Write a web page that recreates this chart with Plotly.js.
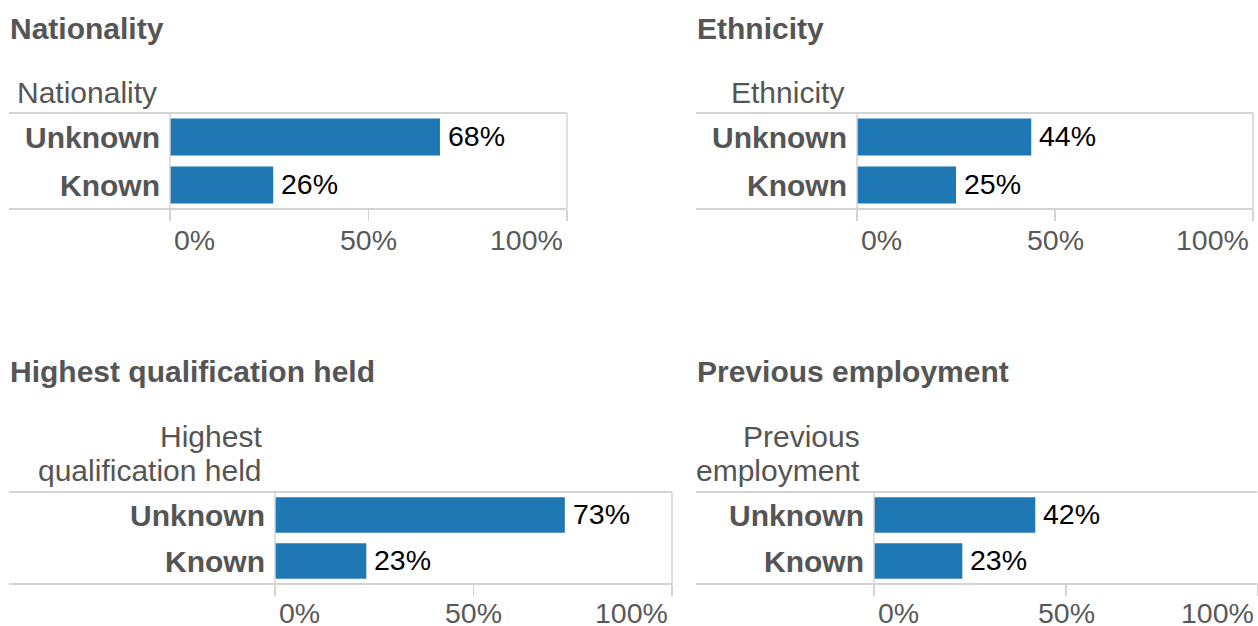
<!DOCTYPE html>
<html>
<head>
<meta charset="utf-8">
<script src="https://cdn.plot.ly/plotly-3.0.1.min.js"></script>
<style>
  html, body { margin: 0; padding: 0; background: #fff; }
  #chart { width: 1258px; height: 626px; }
</style>
</head>
<body>
<div id="chart"></div>
<script>
// ---- data ----
const panelTitles = ["Nationality", "Ethnicity", "Highest qualification held", "Previous employment"];
const subHeaders = [["Nationality"], ["Ethnicity"], ["Highest", "qualification held"], ["Previous", "employment"]];
const categories = ["Unknown", "Known"];
const nationalityValues = [68, 26];
const ethnicityValues = [44, 25];
const qualificationValues = [73, 23];
const employmentValues = [42, 23];
const tickValues = [0, 50, 100];
const tickLabels = ["0%", "50%", "100%"];

const seriesList = [nationalityValues, ethnicityValues, qualificationValues, employmentValues];

// ---- layout geometry (pixels) ----
const W = 1258, H = 626;
const fx = px => px / W;
const fy = py => 1 - py / H;

const panels = [
  { left: 9,   plotL: 170, plotR: 567,  top: 113, bottom: 209, titleY: 28,  subY: [93],       subR: 159, tickY: 240, rightBorder: true },
  { left: 696, plotL: 857, plotR: 1253, top: 113, bottom: 209, titleY: 28,  subY: [93],       subR: 846, tickY: 240, rightBorder: true },
  { left: 9,   plotL: 275, plotR: 672,  top: 492, bottom: 584, titleY: 372, subY: [436, 470], subR: 264, tickY: 613, rightBorder: true },
  { left: 696, plotL: 874, plotR: 1258, top: 492, bottom: 584, titleY: 372, subY: [436, 470], subR: 862, tickY: 613, rightBorder: false }
];

const FONT = "Liberation Sans, Arial, Helvetica, sans-serif";
const GREY = "#555555";
const LINE = "#d4d4d4";
const BLUE = "#1f77b4";
const TEXT_SIZE = 30;
const NUM_SIZE = 28.5;

const traces = [];
const annotations = [];
const shapes = [];
const layout = {
  width: W, height: H,
  margin: { l: 0, r: 0, t: 0, b: 0 },
  paper_bgcolor: "#ffffff",
  plot_bgcolor: "rgba(0,0,0,0)",
  showlegend: false,
  font: { family: FONT, size: TEXT_SIZE, color: GREY },
  bargap: 0.23
};

panels.forEach((p, i) => {
  const n = i + 1;
  const xa = n === 1 ? "x" : "x" + n;
  const ya = n === 1 ? "y" : "y" + n;
  const xKey = n === 1 ? "xaxis" : "xaxis" + n;
  const yKey = n === 1 ? "yaxis" : "yaxis" + n;
  const vals = seriesList[i];

  traces.push({
    type: "bar",
    orientation: "h",
    x: vals,
    y: categories,
    xaxis: xa,
    yaxis: ya,
    marker: { color: BLUE, line: { width: 0 } },
    hoverinfo: "skip"
  });

  layout[xKey] = {
    domain: [fx(p.plotL), fx(p.plotR)],
    anchor: ya,
    range: [0, 100],
    fixedrange: true,
    showgrid: false,
    zeroline: false,
    showline: false,
    tickvals: tickValues,
    ticks: "outside",
    ticklen: 11,
    tickwidth: 1.5,
    tickcolor: LINE,
    showticklabels: false
  };
  layout[yKey] = {
    domain: [fy(p.bottom), fy(p.top)],
    anchor: xa,
    type: "category",
    categoryorder: "array",
    categoryarray: categories.slice().reverse(),
    range: [-0.5, 1.5],
    fixedrange: true,
    showgrid: false,
    zeroline: false,
    showline: false,
    ticks: "",
    ticklabelstandoff: 9,
    tickfont: { family: FONT, size: TEXT_SIZE, color: GREY, weight: "bold" }
  };

  // panel title
  annotations.push({
    xref: "paper", yref: "paper",
    x: fx(p.left - 1), y: fy(p.titleY),
    xanchor: "left", yanchor: "middle",
    text: "<b>" + panelTitles[i] + "</b>",
    showarrow: false,
    font: { family: FONT, size: TEXT_SIZE, color: GREY }
  });

  // sub header lines
  subHeaders[i].forEach((line, k) => {
    annotations.push({
      xref: "paper", yref: "paper",
      x: fx(p.subR), y: fy(p.subY[k]),
      xanchor: "right", yanchor: "middle",
      text: line,
      showarrow: false,
      font: { family: FONT, size: TEXT_SIZE, color: GREY }
    });
  });

  // value labels
  vals.forEach((v, k) => {
    annotations.push({
      xref: xa, yref: ya,
      x: v, y: categories[k],
      xanchor: "left", yanchor: "middle",
      xshift: 6,
      yshift: 1,
      text: v + "%",
      showarrow: false,
      font: { family: FONT, size: NUM_SIZE, color: "#000000" }
    });
  });

  // x tick labels
  tickValues.forEach((t, k) => {
    const anchor = k === 0 ? "left" : (k === tickValues.length - 1 ? "right" : "center");
    const shift = k === 0 ? 3 : (k === tickValues.length - 1 ? -3 : 0);
    annotations.push({
      xref: xa, yref: "paper",
      x: t, y: fy(p.tickY),
      xanchor: anchor, yanchor: "middle",
      xshift: shift,
      text: tickLabels[k],
      showarrow: false,
      borderpad: 0,
      font: { family: FONT, size: NUM_SIZE, color: "#595959" }
    });
  });

  // frame lines
  const right = Math.min(p.plotR, W - 0.5);
  shapes.push({ type: "line", xref: "paper", yref: "paper", x0: fx(p.left), x1: fx(right), y0: fy(p.top), y1: fy(p.top), line: { color: LINE, width: 2 } });
  shapes.push({ type: "line", xref: "paper", yref: "paper", x0: fx(p.left), x1: fx(right), y0: fy(p.bottom), y1: fy(p.bottom), line: { color: LINE, width: 2 } });
  shapes.push({ type: "line", xref: "paper", yref: "paper", x0: fx(p.plotL), x1: fx(p.plotL), y0: fy(p.top), y1: fy(p.bottom), line: { color: LINE, width: 1.5 } });
  if (p.rightBorder) {
    shapes.push({ type: "line", xref: "paper", yref: "paper", x0: fx(p.plotR), x1: fx(p.plotR), y0: fy(p.top), y1: fy(p.bottom), line: { color: LINE, width: 1.5 } });
  }
});

layout.annotations = annotations;
layout.shapes = shapes;

Plotly.newPlot("chart", traces, layout, { displayModeBar: false, staticPlot: true });
</script>
</body>
</html>
